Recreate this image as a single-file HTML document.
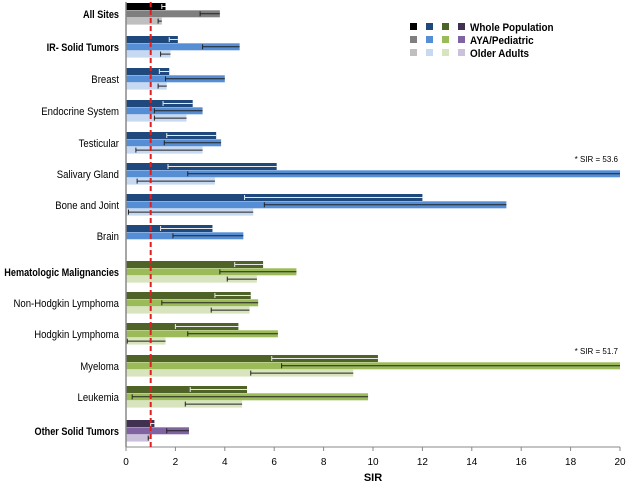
<!DOCTYPE html>
<html><head><meta charset="utf-8"><style>
body{margin:0;background:#fff;font-family:"Liberation Sans",sans-serif}
svg text{font-family:"Liberation Sans",sans-serif}
</style></head><body>
<svg id="chart" width="627" height="483" xmlns="http://www.w3.org/2000/svg"></svg>
<script>
const categories=["All Sites","IR- Solid Tumors","Breast","Endocrine System","Testicular","Salivary Gland","Bone and Joint","Brain","Hematologic Malignancies","Non-Hodgkin Lymphoma","Hodgkin Lymphoma","Myeloma","Leukemia","Other Solid Tumors"];
const boldCats=[true,true,false,false,false,false,false,false,true,false,false,false,false,true];
const groupCenters=[14,47,79,111,143,174,205,236,272,303,334,366,397,431];
const wholeValues=[1.6,2.1,1.75,2.7,3.65,6.1,12.0,3.5,5.55,5.05,4.55,10.2,4.9,1.15];
const wholeLow=[1.45,1.75,1.35,1.5,1.65,1.7,4.8,1.4,4.4,3.6,2.0,5.9,2.6,1.0];
const ayaValues=[3.8,4.6,4.0,3.1,3.85,20,15.4,4.75,6.9,5.35,6.15,20,9.8,2.55];
const ayaLow=[3.0,3.1,1.6,1.15,1.55,2.5,5.6,1.9,3.8,1.45,2.5,6.3,0.25,1.65];
const olderValues=[1.45,1.8,1.65,2.45,3.1,3.6,5.15,null,5.3,5.0,1.6,9.2,4.7,0.95];
const olderLow=[1.3,1.4,1.3,1.15,0.4,0.45,0.1,null,4.1,3.45,0.05,5.05,2.4,0.9];
const palette=[["#000000","#7f7f7f","#bfbfbf"],["#1f497d","#558ed5","#c6d9f1"],["#4f6228","#9bbb59","#d7e4bd"],["#403151","#8064a2","#ccc1da"]];
const paletteOf=[0,1,1,1,1,1,1,1,2,2,2,2,2,3];
const xTicks=[0,2,4,6,8,10,12,14,16,18,20];
const notes=[{cat:5,text:"* SIR = 53.6"},{cat:11,text:"* SIR = 51.7"}];
const NS="http://www.w3.org/2000/svg";
const svg=document.getElementById('chart');
const x0=126,x1=620,xmax=20,axisTop=2,axisBottom=447,bh=7;
function xs(v){return x0+(v/xmax)*(x1-x0);}
function el(t,a,p){const e=document.createElementNS(NS,t);for(const k in a)e.setAttribute(k,a[k]);(p||svg).appendChild(e);return e;}
function squeeze(t,f){const L=t.getComputedTextLength();t.setAttribute('textLength',(L*f).toFixed(1));t.setAttribute('lengthAdjust','spacingAndGlyphs');}
const series=[wholeValues,ayaValues,olderValues],lows=[wholeLow,ayaLow,olderLow],sNames=["whole","aya","older"];
categories.forEach((c,i)=>{
  const cy=groupCenters[i];
  const lab=el('text',{x:119,y:cy+4,'text-anchor':'end','font-size':'11','font-weight':boldCats[i]?'bold':'normal',fill:'#000'});
  lab.textContent=c;
  
  
  squeeze(lab,boldCats[i]?0.83:0.87);
  for(let s=0;s<3;s++){
    const v=series[s][i];if(v==null)continue;
    const y=cy-11+s*7.3;
    const r=el('rect',{x:x0,y:y,width:xs(v)-x0,height:bh,fill:palette[paletteOf[i]][s]});
    
    
    const lo=lows[s][i];
    const col=s===0?'#e8e8e8':'#222';
    const g=el('g',{stroke:col,'stroke-width':'1'});
    
    
    el('line',{x1:xs(lo),x2:xs(v),y1:y+bh/2,y2:y+bh/2},g);
    el('line',{x1:xs(lo),x2:xs(lo),y1:y+1,y2:y+bh-1},g);
  }
});
notes.forEach(n=>{
  const t=el('text',{x:618,y:groupCenters[n.cat]-12,'text-anchor':'end','font-size':'8',fill:'#000'});
  t.textContent=n.text;
  
  
});
const ax=el('line',{x1:x0,x2:x0,y1:axisTop,y2:axisBottom,stroke:'#888','stroke-width':'1.5'});


const xa=el('line',{x1:x0,x2:x1,y1:axisBottom,y2:axisBottom,stroke:'#888','stroke-width':'1'});


xTicks.forEach(t=>{
  el('line',{x1:xs(t),x2:xs(t),y1:axisBottom,y2:axisBottom+4,stroke:'#888'});
  const tl=el('text',{x:xs(t),y:465,'text-anchor':'middle','font-size':'10',fill:'#000'});
  tl.textContent=t;
  
  
});
const rl=el('line',{x1:xs(1),x2:xs(1),y1:axisTop,y2:axisBottom,stroke:'#e02020','stroke-width':'2','stroke-dasharray':'5,3'});


const xt=el('text',{x:373,y:481,'text-anchor':'middle','font-size':'11','font-weight':'bold',fill:'#000'});
xt.textContent='SIR';


const legNames=["Whole Population","AYA/Pediatric","Older Adults"];
legNames.forEach((n,r)=>{
  const y=27+r*13;
  for(let c=0;c<4;c++){
    const sq=el('rect',{x:410+c*16,y:y-4,width:7,height:7,fill:palette[c][r]});
    
    
  }
  const t=el('text',{x:470,y:y+4,'font-size':'11','font-weight':'bold',fill:'#000'});
  t.textContent=n;
  
  
  squeeze(t,0.9);
});
</script>
</body></html>
